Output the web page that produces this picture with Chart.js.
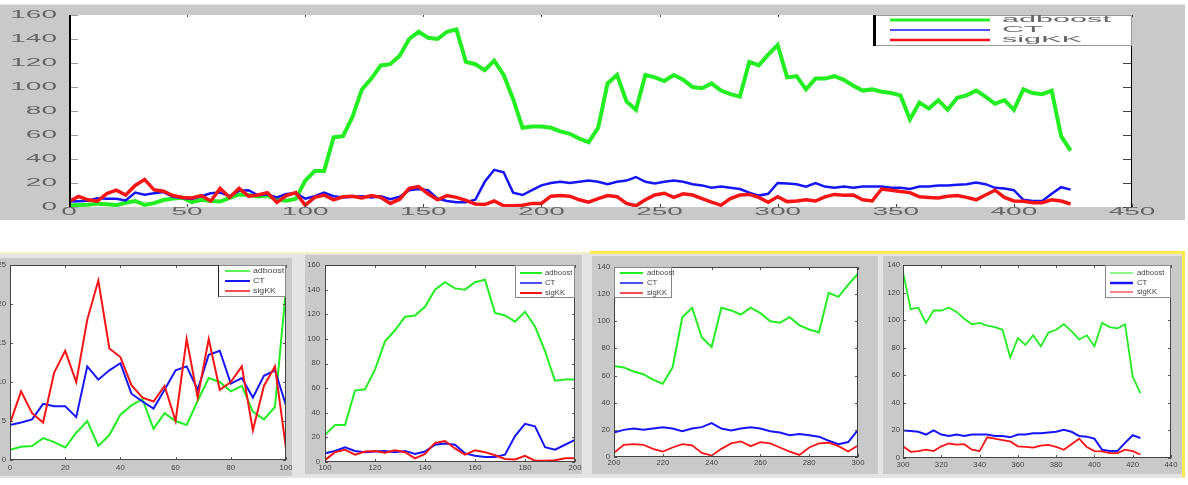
<!DOCTYPE html>
<html>
<head>
<meta charset="utf-8">
<script src="https://cdn.jsdelivr.net/npm/chart.js@4.4.0/dist/chart.umd.min.js"></script>
<style>
body{margin:0;background:#fff;width:1188px;height:485px;overflow:hidden;position:relative}
.panel{position:absolute;background:#c9c9c9;overflow:hidden}
.panel canvas{position:absolute;left:0;top:0}
.strip{position:absolute}
</style>
</head>
<body>
<div class="panel" style="left:0;top:5px;width:1185px;height:215px;box-shadow:0 -1px 0 #d4eeee"><canvas id="c0" width="1185" height="215"></canvas></div>

<div class="strip" style="left:0;top:252px;width:1185px;height:226px;background:#e4e4e4"></div>
<div class="strip" style="left:0;top:252px;width:590px;height:2px;background:#f3efc6"></div>
<div class="strip" style="left:590px;top:251px;width:595px;height:3px;background:#ffe94f"></div>
<div class="strip" style="left:1182px;top:251px;width:3px;height:226px;background:#ffe94f"></div>

<div class="panel" style="left:0;top:258px;width:292px;height:218px"><canvas id="c1" width="292" height="218"></canvas></div>
<div class="panel" style="left:305px;top:255px;width:277px;height:219px"><canvas id="c2" width="277" height="219"></canvas></div>
<div class="panel" style="left:592px;top:256px;width:286px;height:218px"><canvas id="c3" width="286" height="218"></canvas></div>
<div class="panel" style="left:883px;top:256px;width:299px;height:218px"><canvas id="c4" width="299" height="218"></canvas></div>

<script>
// samples every 4 time steps, x = 0 .. 424
var STEP = 4;
var seriesNames = ['adboost', 'CT', 'sigKK'];
var seriesColors = ['#22ee22', '#1515f5', '#f51515'];

var adboost = [
  1.3,1.7,1.8,2.8,2.3,1.6,3.5,5.0,1.8,3.2,5.8,7.0,7.8,4.0,6.0,5.0,4.5,7.6,10.5,10.0,8.8,9.5,6.2,5.2,6.8,
  22,30,30,58,59,75,98,107,118,119,126,140,146,141,140,146,148,121,119,114,122,110,90,66,67,
  67,66,63,61,57,54,66,103,110,88,81,110,108,105,110,106,100,99,103,97,94,92,121,118,127,
  135,108,109,98,107,107,109,106,101,97,98,96,95,93,73,87,82,89,81,91,93,97,92,86,89,81,98,95,94,97,59,47
];
var ct = [
  4.5,4.8,5.2,7.2,6.9,6.9,5.5,12.0,10.3,11.5,12.4,8.5,7.5,6.6,9.0,11.5,12.0,9.0,13.5,14.0,9.8,10.5,8.0,10.8,11.5,
  7,9,12,9,8,8.5,9,8,9,6.5,8.5,14,15,14,7,5,4,4,6,21,31,29,12,10,14,
  18,20,21,20,21,22,21,19,21,22,25,21,19.5,21,22,21,19,18,16,17,16,15,12,9.5,11,
  20,19.5,19,17,20,17,16,17,16,17,17,17,16,16,15,17,17,18,18,18.5,19,20.5,19,16,15.5,14,6,5,5,11,16.5,14.5
];
var sigkk = [
  4.7,8.8,6.0,4.8,11.2,14.0,10.0,18.0,23,14.3,13.2,9.6,8.0,7.5,9.5,5.0,15.5,8.0,15.5,9.0,10.0,12.0,3.8,9.5,12.0,
  1.5,8,10,6,8.5,9,7.5,9.5,8,3,6.5,15.5,17,11,6,9.5,8,5.5,2.5,2,5,1,1,1.5,3,
  3,9,9.5,9,6,4,7,9.5,8.6,3,1,6,10,11.5,8,11,10,7,4,1.5,7,10,10.5,8,4,
  8.5,4.5,5,6,5,8.5,10.5,9.7,10,6,5,15,14,13,12,8.5,8,7.5,9,9.5,8,6,10,14,8,5,4.8,3.6,3.6,6,5,2.5
];
var seriesValues = [adboost, ct, sigkk];

// axis ranges: main chart, then the four zoomed panels
var xRanges = [[0, 450], [0, 100], [100, 200], [200, 300], [300, 440]];
var xSteps = [50, 20, 20, 20, 20];
var yMaxes = [160, 25, 160, 140, 140];
var ySteps = [20, 5, 20, 20, 20];

function points(vals, lo, hi) {
  return vals.map(function(v, i) { return {x: i * STEP, y: v}; })
    .filter(function(p) { return p.x >= lo && p.x <= hi; });
}

function wideText(ctx, s, x, y, sx, align) {
  ctx.save();
  ctx.translate(x, y);
  ctx.scale(sx, 1);
  ctx.textAlign = align;
  ctx.fillText(s, 0, 0);
  ctx.restore();
}

var decor = {
  id: 'decor',
  beforeDatasetsDraw: function(chart) {
    var a = chart.chartArea;
    chart.ctx.save();
    chart.ctx.fillStyle = '#fff';
    chart.ctx.fillRect(a.left, a.top, a.right - a.left, a.bottom - a.top);
    chart.ctx.restore();
  },
  afterDatasetsDraw: function(chart, args, o) {
    var ctx = chart.ctx, a = chart.chartArea, xs = chart.scales.x, ys = chart.scales.y;
    ctx.save();
    function seg(x1, y1, x2, y2, w, c) {
      ctx.beginPath(); ctx.lineWidth = w; ctx.strokeStyle = c;
      ctx.moveTo(x1, y1); ctx.lineTo(x2, y2); ctx.stroke();
    }
    var tk = o.ticks;
    ys.ticks.forEach(function(t) {
      var y = Math.round(ys.getPixelForValue(t.value)) + 0.5;
      if (tk.left) seg(a.left, y, a.left + tk.left, y, 1, tk.colorL || tk.color);
      if (tk.right) seg(a.right - tk.right, y, a.right, y, 1, tk.color);
    });
    xs.ticks.forEach(function(t) {
      var x = Math.round(xs.getPixelForValue(t.value)) + 0.5;
      if (tk.top) seg(x, a.top, x, a.top + tk.top, 1, tk.color);
      if (tk.bottom) seg(x, a.bottom, x, a.bottom - tk.bottom, 1, tk.color);
    });

    var f = o.frame;
    if (f.top) seg(a.left, a.top + f.top[0] / 2, a.right, a.top + f.top[0] / 2, f.top[0], f.top[1]);
    if (f.bottom) seg(a.left, a.bottom - f.bottom[0] / 2, a.right, a.bottom - f.bottom[0] / 2, f.bottom[0], f.bottom[1]);
    if (f.left) seg(a.left + f.left[0] / 2, a.top, a.left + f.left[0] / 2, a.bottom, f.left[0], f.left[1]);
    if (f.right) seg(a.right - f.right[0] / 2, a.top, a.right - f.right[0] / 2, a.bottom, f.right[0], f.right[1]);

    ctx.font = o.font;
    ctx.fillStyle = o.labelColor;
    ctx.textBaseline = 'middle';
    ys.ticks.forEach(function(t) {
      wideText(ctx, t.label, a.left - o.yGap, ys.getPixelForValue(t.value), o.sx, 'right');
    });
    xs.ticks.forEach(function(t) {
      wideText(ctx, t.label, xs.getPixelForValue(t.value), a.bottom + o.xGap, o.sx, 'center');
    });

    var L = o.legend;
    var bx = L.side === 'right' ? a.right - L.w : a.left, by = a.top;
    ctx.fillStyle = '#fff';
    ctx.fillRect(bx, by, L.w, L.h);
    ctx.lineWidth = 1;
    ctx.strokeStyle = L.border;
    ctx.strokeRect(bx + 0.5, by + 0.5, L.w - 1, L.h - 1);
    if (L.leftEdge) seg(bx + L.leftEdge[0] / 2, by, bx + L.leftEdge[0] / 2, by + L.h, L.leftEdge[0], L.leftEdge[1]);
    chart.data.datasets.forEach(function(d, i) {
      var y = by + L.rows[i];
      seg(bx + L.line0, y, bx + L.line0 + L.lineLen, y, L.lw[i], d.borderColor);
      ctx.font = L.font;
      ctx.fillStyle = L.color;
      ctx.textBaseline = 'middle';
      wideText(ctx, d.label, bx + L.text0, y, L.sx, 'left');
    });
    ctx.restore();
  }
};

function makeChart(k, cfg) {
  var lo = xRanges[k][0], hi = xRanges[k][1];
  return new Chart(document.getElementById('c' + k), {
    type: 'line',
    data: {
      datasets: seriesNames.map(function(name, i) {
        return {
          label: name,
          data: points(seriesValues[i], lo, hi),
          borderColor: seriesColors[i],
          borderWidth: cfg.lw[i],
          pointRadius: 0,
          tension: 0,
          fill: false,
          order: 3 - i
        };
      })
    },
    options: {
      responsive: false,
      animation: false,
      events: [],
      layout: {padding: cfg.pad},
      plugins: {legend: {display: false}, tooltip: {enabled: false}, decor: cfg.decor},
      scales: {
        x: {
          type: 'linear', min: lo, max: hi,
          afterFit: function(s) { s.height = cfg.xH; },
          grid: {display: false, drawTicks: false},
          border: {display: false},
          ticks: {display: false, stepSize: xSteps[k], autoSkip: false}
        },
        y: {
          type: 'linear', min: 0, max: yMaxes[k],
          afterFit: function(s) { s.width = cfg.yW; },
          grid: {display: false, drawTicks: false},
          border: {display: false},
          ticks: {display: false, stepSize: ySteps[k], autoSkip: false}
        }
      }
    },
    plugins: [decor]
  });
}

var smallTicks = {left: 3, right: 3, top: 3, bottom: 3, color: '#555'};
var box = {left: [1, '#444'], right: [1, '#444'], top: [1, '#444'], bottom: [1, '#444']};
var smallFont = '7px "Liberation Sans"';

// main chart
makeChart(0, {
  lw: [4, 2.5, 3.5], pad: {left: 0, right: 53, top: 10, bottom: 0}, yW: 69, xH: 13,
  decor: {
    ticks: {left: 9, right: 9, top: 2, bottom: 3, color: '#444', colorL: '#999'},
    frame: {left: [2, '#000'], right: [1, '#000']},
    font: '10px "Liberation Sans"', labelColor: '#666', sx: 2.8, yGap: 12, xGap: 5,
    legend: {side: 'right', w: 259, h: 31, line0: 17, lineLen: 100, text0: 129, rows: [5, 15, 25],
      lw: [3, 1.5, 2.5], font: '9px "Liberation Sans"', sx: 3.4, color: '#666',
      border: '#999', leftEdge: [3, '#000']}
  }
});

makeChart(1, {
  lw: [2, 2, 2], pad: {left: 0, right: 6, top: 7, bottom: 0}, yW: 10, xH: 16,
  decor: {
    ticks: smallTicks, frame: box, font: smallFont, labelColor: '#444', sx: 1.1, yGap: 4, xGap: 8,
    legend: {side: 'right', w: 68, h: 32, line0: 7, lineLen: 25, text0: 35, rows: [6, 16, 26],
      lw: [1.5, 2, 1.5], font: smallFont, sx: 1.25, color: '#444', border: '#888', leftEdge: [1, '#222']}
  }
});

makeChart(2, {
  lw: [2, 2, 2], pad: {left: 0, right: 7, top: 10, bottom: 0}, yW: 20, xH: 12,
  decor: {
    ticks: smallTicks, frame: box, font: smallFont, labelColor: '#444', sx: 1.1, yGap: 5, xGap: 6,
    legend: {side: 'right', w: 60, h: 33, line0: 5, lineLen: 22, text0: 30, rows: [8, 18, 28],
      lw: [2, 1.5, 2], font: smallFont, sx: 1.1, color: '#444', border: '#888'}
  }
});

makeChart(3, {
  lw: [2, 2, 1.8], pad: {left: 0, right: 20, top: 11, bottom: 0}, yW: 22, xH: 17,
  decor: {
    ticks: smallTicks, frame: box, font: smallFont, labelColor: '#444', sx: 1.1, yGap: 4, xGap: 6,
    legend: {side: 'left', w: 58, h: 31, line0: 6, lineLen: 23, text0: 33, rows: [6, 16, 26],
      lw: [2, 1.5, 1.5], font: smallFont, sx: 1.1, color: '#444', border: '#888'}
  }
});

makeChart(4, {
  lw: [1.8, 2, 1.8], pad: {left: 0, right: 11, top: 9, bottom: 0}, yW: 20, xH: 16,
  decor: {
    ticks: smallTicks, frame: box, font: smallFont, labelColor: '#444', sx: 1.1, yGap: 3, xGap: 7,
    legend: {side: 'right', w: 66, h: 33, line0: 5, lineLen: 23, text0: 32, rows: [8, 18, 27],
      lw: [1, 2.5, 1], font: smallFont, sx: 1.1, color: '#444', border: '#888'}
  }
});
</script>
</body>
</html>
